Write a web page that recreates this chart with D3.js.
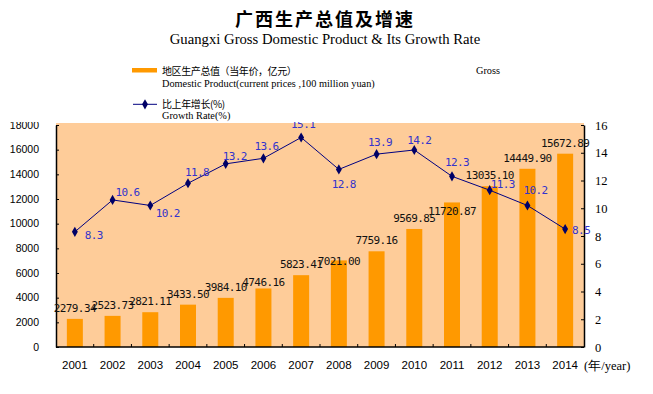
<!DOCTYPE html>
<html><head><meta charset="utf-8">
<script src="https://cdn.jsdelivr.net/npm/d3@7"></script>
<style>html,body{margin:0;padding:0;background:#fff;}svg{display:block;}</style>
</head><body>
<svg id="c" width="653" height="394"></svg>
<script>
const years = ["2001","2002","2003","2004","2005","2006","2007","2008","2009","2010","2011","2012","2013","2014"];
const gdp = [2279.34, 2523.73, 2821.11, 3433.50, 3984.10, 4746.16, 5823.41, 7021.00, 7759.16, 9569.85, 11720.87, 13035.10, 14449.90, 15672.89];
const growth = [8.3, 10.6, 10.2, 11.8, 13.2, 13.6, 15.1, 12.8, 13.9, 14.2, 12.3, 11.3, 10.2, 8.5];
const gdpTicks = [0, 2000, 4000, 6000, 8000, 10000, 12000, 14000, 16000, 18000];
const rateTicks = [0, 2, 4, 6, 8, 10, 12, 14, 16];

// label placement (styling only)
const barLabelDy = [-11,-11,-11,-11,-11,-6,-11,0.5,-11,-11,8.6,-11,-11,-11];
const rateLabelOff = [[19,3],[15,-8],[17.5,8],[9,-11],[9,-8],[3,-12.6],[2,-13],[5,15],[3.5,-12],[5,-10],[5,-14],[13,-6],[8,-15],[16,0.7]];

const svg = d3.select("#c");
const L = 56, R = 584, T = 125, B = 347;

const x = d3.scaleBand().domain(years).range([L, R]).padding(0);
const cx = d => x(d) + x.bandwidth() / 2;
const yL = d3.scaleLinear().domain([0, 18000]).range([B, T]);
const yR = d3.scaleLinear().domain([0, 16]).range([B, T]);

// plot background
svg.append("rect").attr("x", L).attr("y", T - 2).attr("width", R - L).attr("height", B - T + 2).attr("fill", "#FECC99");

// bars
const bw = 16;
svg.append("g").selectAll("rect").data(years).join("rect")
  .attr("x", d => cx(d) - bw / 2)
  .attr("y", (d, i) => yL(gdp[i]))
  .attr("width", bw)
  .attr("height", (d, i) => B - yL(gdp[i]))
  .attr("fill", "#FF9900");

// axes
const axL = svg.append("g").attr("transform", `translate(${L},0)`)
  .call(d3.axisRight(yL).tickValues(gdpTicks).tickSize(3).tickSizeOuter(0).tickFormat(""));
const axR = svg.append("g").attr("transform", `translate(${R},0)`)
  .call(d3.axisLeft(yR).tickValues(rateTicks).tickSize(3).tickSizeOuter(0).tickFormat(""));
[axL, axR].forEach(a => { a.selectAll("path").attr("stroke", "#000").attr("stroke-width", 1.5); a.selectAll("line").attr("stroke", "#000"); });
const axB = svg.append("g");
axB.append("line").attr("x1", L).attr("x2", R).attr("y1", B).attr("y2", B).attr("stroke", "#000").attr("stroke-width", 1.5);
axB.selectAll("line.t").data(years.slice(1)).join("line").attr("class", "t")
  .attr("x1", d => x(d)).attr("x2", d => x(d)).attr("y1", B).attr("y2", B - 3).attr("stroke", "#000");

// left tick labels
svg.append("g").selectAll("text").data(gdpTicks).join("text")
  .attr("x", 39).attr("y", d => yL(d)).attr("dy", "0.36em")
  .attr("text-anchor", "end").attr("font-family", "Liberation Sans, Arial, sans-serif")
  .attr("font-size", "10.5px").attr("fill", "#000").text(d => d);
// right tick labels
svg.append("g").selectAll("text").data(rateTicks).join("text")
  .attr("x", 595).attr("y", d => yR(d)).attr("dy", "0.36em")
  .attr("text-anchor", "start").attr("font-family", "Liberation Serif, Times New Roman, serif")
  .attr("font-size", "12.5px").attr("fill", "#000").text(d => d);
// x labels
svg.append("g").selectAll("text").data(years).join("text")
  .attr("x", d => cx(d)).attr("y", 365).attr("dy", "0.36em")
  .attr("text-anchor", "middle").attr("font-family", "Liberation Sans, Arial, sans-serif")
  .attr("font-size", "11.5px").attr("fill", "#000").text(d => d);
svg.append("text").attr("x", 584).attr("y", 365).attr("dy", "0.36em")
  .attr("font-family", "Liberation Serif, Times New Roman, serif").attr("font-size", "12.5px")
  .text("(年/year)");

// bar value labels
svg.append("g").selectAll("text").data(years).join("text")
  .attr("x", d => cx(d))
  .attr("y", (d, i) => yL(gdp[i]) + barLabelDy[i]).attr("dy", "0.36em")
  .attr("text-anchor", "middle").attr("font-family", "DejaVu Sans Mono, monospace")
  .attr("font-size", "11px").attr("letter-spacing", "-0.6px").attr("fill", "#111")
  .text((d, i) => gdp[i].toFixed(2));

// growth line
const line = d3.line().x((d, i) => cx(years[i])).y(d => yR(d));
svg.append("path").datum(growth).attr("d", line).attr("fill", "none").attr("stroke", "#000080").attr("stroke-width", 1);
svg.append("g").selectAll("path").data(growth).join("path")
  .attr("transform", (d, i) => `translate(${cx(years[i])},${yR(d)})`)
  .attr("d", d3.symbol().type(d3.symbolDiamond).size(30)).attr("fill", "#000066");
svg.append("g").selectAll("text").data(growth).join("text")
  .attr("x", (d, i) => cx(years[i]) + rateLabelOff[i][0])
  .attr("y", (d, i) => yR(d) + rateLabelOff[i][1]).attr("dy", "0.36em")
  .attr("text-anchor", "middle").attr("font-family", "DejaVu Sans Mono, monospace")
  .attr("font-size", "11px").attr("letter-spacing", "-0.6px").attr("fill", "#3333CC")
  .text(d => d.toFixed(1));

// legend (white box over the plot top)
svg.append("rect").attr("x", 0).attr("y", 55).attr("width", 653).attr("height", 67).attr("fill", "#fff");
svg.append("rect").attr("x", 132).attr("y", 68).attr("width", 25).attr("height", 4.5).attr("fill", "#FF9900");
const cjk = "Noto Sans CJK SC, sans-serif", serif = "Liberation Serif, Times New Roman, serif";
svg.append("text").attr("x", 162).attr("y", 75).attr("font-family", cjk).attr("font-size", "10px").attr("letter-spacing", "-0.4px").text("地区生产总值（当年价，亿元）");
svg.append("text").attr("x", 476).attr("y", 74).attr("font-family", serif).attr("font-size", "10.3px").text("Gross");
svg.append("text").attr("x", 162).attr("y", 87).attr("font-family", serif).attr("font-size", "10.3px").text("Domestic Product(current prices ,100 million yuan)");
svg.append("line").attr("x1", 133).attr("x2", 157).attr("y1", 104.3).attr("y2", 104.3).attr("stroke", "#000080");
svg.append("path").attr("transform", "translate(145,104.3)").attr("d", d3.symbol().type(d3.symbolDiamond).size(30)).attr("fill", "#000066");
svg.append("text").attr("x", 162).attr("y", 107.5).attr("font-family", cjk).attr("font-size", "10px").attr("letter-spacing", "-0.4px").text("比上年增长(%)");
svg.append("text").attr("x", 162).attr("y", 119).attr("font-family", serif).attr("font-size", "10.3px").text("Growth Rate(%)");

// titles
svg.append("text").attr("x", 325).attr("y", 26).attr("text-anchor", "middle")
  .attr("font-family", cjk).attr("font-weight", "bold").attr("font-size", "18px").attr("letter-spacing", "2px")
  .text("广西生产总值及增速");
svg.append("text").attr("x", 325).attr("y", 44).attr("text-anchor", "middle")
  .attr("font-family", serif).attr("font-size", "14.7px")
  .text("Guangxi Gross Domestic Product & Its Growth Rate");
</script>
</body></html>
